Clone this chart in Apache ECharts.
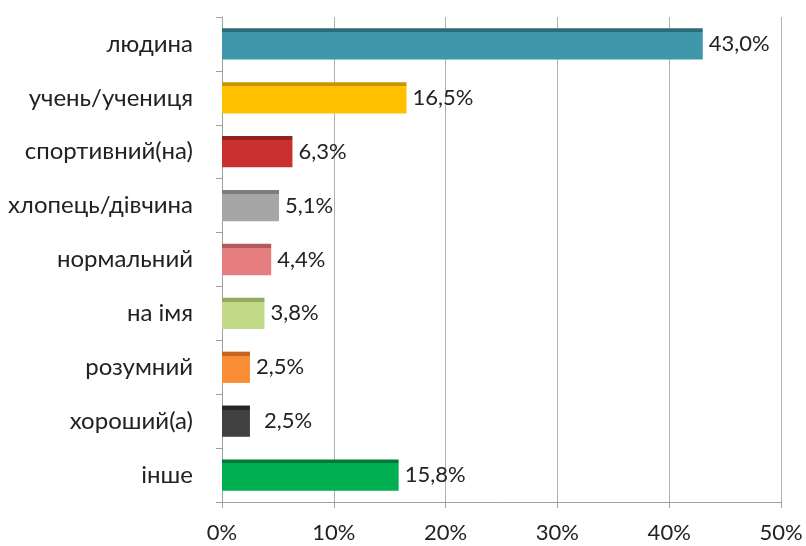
<!DOCTYPE html>
<html><head><meta charset="utf-8">
<script src="https://cdn.jsdelivr.net/npm/echarts@6/dist/echarts.min.js"></script>
<style>html,body{margin:0;padding:0;background:#fff}#c{width:806px;height:546px}</style>
</head><body><div id="c"></div>
<script>
var categories = ['людина','учень/учениця','спортивний(на)','хлопець/дівчина','нормальний','на імя','розумний','хороший(а)','інше'];
var values = [43.0, 16.5, 6.3, 5.1, 4.4, 3.8, 2.5, 2.5, 15.8];
var colors = ['#3E97AB','#FFC000','#C9302F','#A6A6A6','#E67E80','#C2DA88','#F98D35','#404040','#00B050'];
var topColors = ['#2B6C7A','#C79500','#96201F','#7D7D7D','#B05A5C','#93AC60','#C4661F','#262626','#007A37'];
var xTicks = [0,10,20,30,40,50];

var data = values.map(function(v,i){
  return {
    value: v,
    itemStyle: { color: { type:'linear', x:0, y:0, x2:0, y2:1, colorStops:[
      {offset:0,color:topColors[i]},{offset:0.13,color:topColors[i]},
      {offset:0.13,color:colors[i]},{offset:1,color:colors[i]}]}},
    label: i===7 ? {distance:14} : undefined
  };
});
var chart = echarts.init(document.getElementById('c'));
chart.setOption({
  animation:false,
  grid:{left:222,right:25,top:17,bottom:44,containLabel:false},
  xAxis:{type:'value',min:xTicks[0],max:xTicks[xTicks.length-1],interval:10,
    axisLine:{show:true,lineStyle:{color:'#A0A0A0'}},
    axisTick:{show:true,length:6,lineStyle:{color:'#A0A0A0'}},
    splitLine:{show:true,lineStyle:{color:'#B0B0B0'}},
    axisLabel:{formatter:function(v){return v+'%';},fontFamily:'Lato',fontSize:22,color:'#222',margin:20}},
  yAxis:{type:'category',data:categories,inverse:true,
    axisLine:{show:true,lineStyle:{color:'#A0A0A0'}},
    axisTick:{show:true,length:6,lineStyle:{color:'#A0A0A0'}},
    axisLabel:{fontFamily:'Lato',fontSize:24,color:'#222',margin:29,padding:[6,0,0,0]}},
  series:[{type:'bar',data:data,barCategoryGap:'42%',
    label:{show:true,position:'right',distance:6,fontFamily:'Lato',fontSize:22,color:'#222',
      formatter:function(p){return p.value.toFixed(1).replace('.',',')+'%';}}}]
});
</script></body></html>
